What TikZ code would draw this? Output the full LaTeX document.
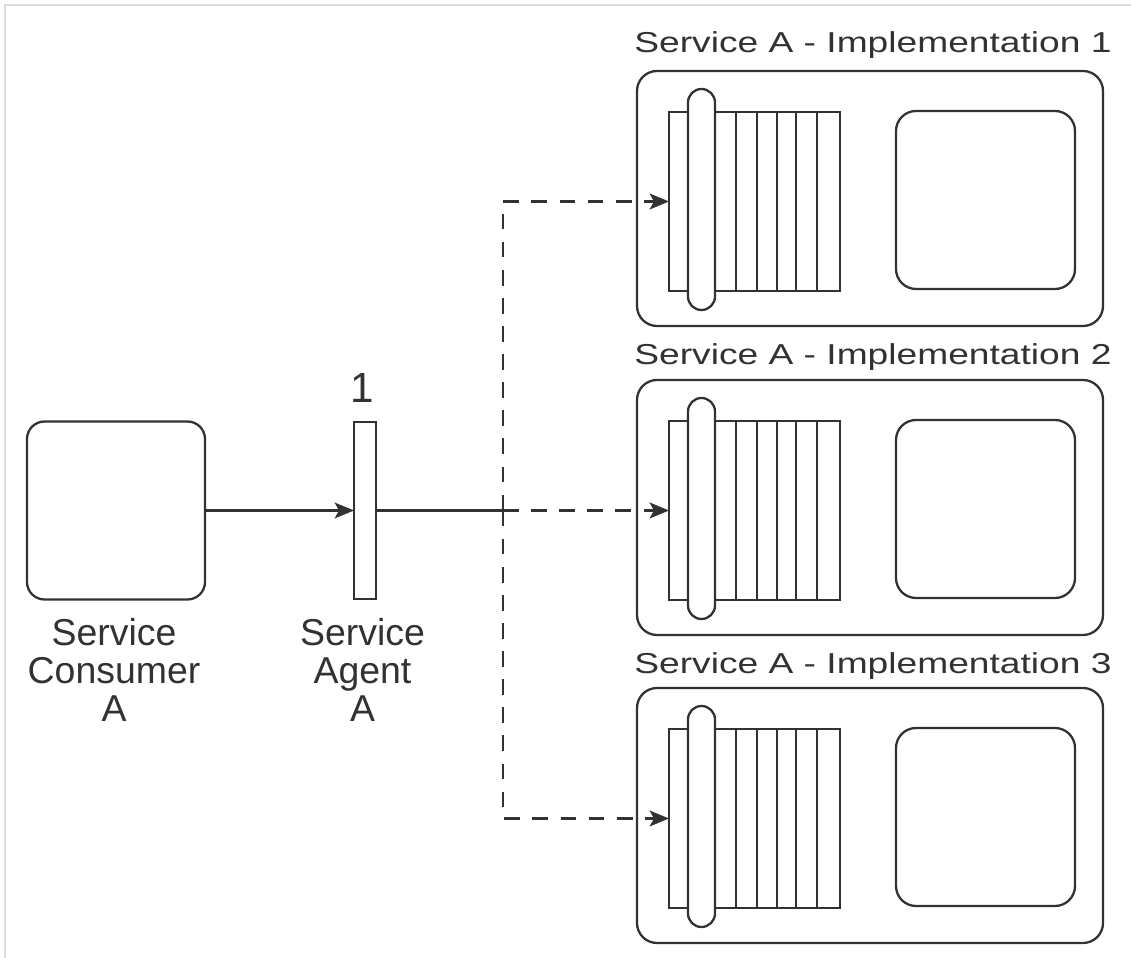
\documentclass[tikz,border=0pt]{standalone}
\usepackage{fontspec}
\setmainfont{Liberation Sans}
\newfontfamily\titlefont[FakeStretch=1.29]{Liberation Sans}
\usetikzlibrary{arrows.meta}
\definecolor{ink}{RGB}{50,50,50}
\definecolor{frame}{RGB}{222,222,222}

\begin{document}
\begin{tikzpicture}[line width=1.3pt, color=ink,
  every node/.style={inner sep=0pt, outer sep=0pt},
  rbox/.style={rectangle, draw, rounded corners=0.35cm},
  stack/.style={rectangle, draw, minimum width=3.42cm, minimum height=3.58cm},
  pill/.style={rectangle, draw, fill=white, rounded corners=0.27cm, minimum width=0.54cm, minimum height=4.42cm},
  impl/.style={rbox, rounded corners=0.4cm, minimum width=9.32cm, minimum height=5.1cm},
  core/.style={rbox, rounded corners=0.4cm, minimum width=3.58cm, minimum height=3.56cm},
  lbl/.style={align=center, anchor=north, font=\fontsize{21.3}{21.8}\selectfont},
  title/.style={anchor=base, font=\titlefont\fontsize{16.4}{18}\selectfont},
  flow/.style={-{Stealth[length=11pt,width=9pt,inset=2.5pt]}},
  alt/.style={flow, line width=1.5pt, dash pattern=on 9pt off 7pt}]

\useasboundingbox (0,0) rectangle (22.62,19.16);
\draw [frame, line width=1.5pt] (0.1,0) -- (0.1,19.06) -- (22.62,19.06);

% consumer and agent
\node (cons) at (2.32,8.95) [rbox, minimum size=3.56cm] {};
\node (agent) at (7.30,8.95) [rectangle, draw, minimum width=0.44cm, minimum height=3.54cm] {};
\node (one) at (7.24,11.10) [anchor=base, font=\fontsize{24}{24}\selectfont] {1};
\node (consl) at (2.28,6.80) [lbl] {Service\\Consumer\\A};
\node (agentl) at (7.25,6.80) [lbl] {Service\\Agent\\A};
\coordinate (split) at (10.06,8.95);

% implementation 1
\node (t1) at (17.46,18.10) [title] {Service A - Implementation 1};
\node (impl1) at (17.40,15.19) [impl] {};
\node (st1) at (15.09,15.13) [stack] {};
\draw (14.72,0 |- st1.north) -- (14.72,0 |- st1.south)
      (15.14,0 |- st1.north) -- (15.14,0 |- st1.south)
      (15.54,0 |- st1.north) -- (15.54,0 |- st1.south)
      (15.92,0 |- st1.north) -- (15.92,0 |- st1.south)
      (16.34,0 |- st1.north) -- (16.34,0 |- st1.south);
\node (p1) at (14.03,15.17) [pill] {};
\node (c1) at (19.71,15.16) [core] {};

% implementation 2
\node (t2) at (17.46,11.86) [title] {Service A - Implementation 2};
\node (impl2) at (17.40,9.01) [impl] {};
\node (st2) at (15.09,8.95) [stack] {};
\draw (14.72,0 |- st2.north) -- (14.72,0 |- st2.south)
      (15.14,0 |- st2.north) -- (15.14,0 |- st2.south)
      (15.54,0 |- st2.north) -- (15.54,0 |- st2.south)
      (15.92,0 |- st2.north) -- (15.92,0 |- st2.south)
      (16.34,0 |- st2.north) -- (16.34,0 |- st2.south);
\node (p2) at (14.03,8.99) [pill] {};
\node (c2) at (19.71,8.98) [core] {};

% implementation 3
\node (t3) at (17.46,5.68) [title] {Service A - Implementation 3};
\node (impl3) at (17.40,2.85) [impl] {};
\node (st3) at (15.09,2.79) [stack] {};
\draw (14.72,0 |- st3.north) -- (14.72,0 |- st3.south)
      (15.14,0 |- st3.north) -- (15.14,0 |- st3.south)
      (15.54,0 |- st3.north) -- (15.54,0 |- st3.south)
      (15.92,0 |- st3.north) -- (15.92,0 |- st3.south)
      (16.34,0 |- st3.north) -- (16.34,0 |- st3.south);
\node (p3) at (14.03,2.83) [pill] {};
\node (c3) at (19.71,2.82) [core] {};

% connectors
\draw [flow] (cons) -- (agent);
\draw (agent) -- (split);
\draw [alt] (split) |- (st1.west);
\draw [alt] (split) -- (st2.west);
\draw [alt] (split) |- (st3.west);

\end{tikzpicture}
\end{document}
